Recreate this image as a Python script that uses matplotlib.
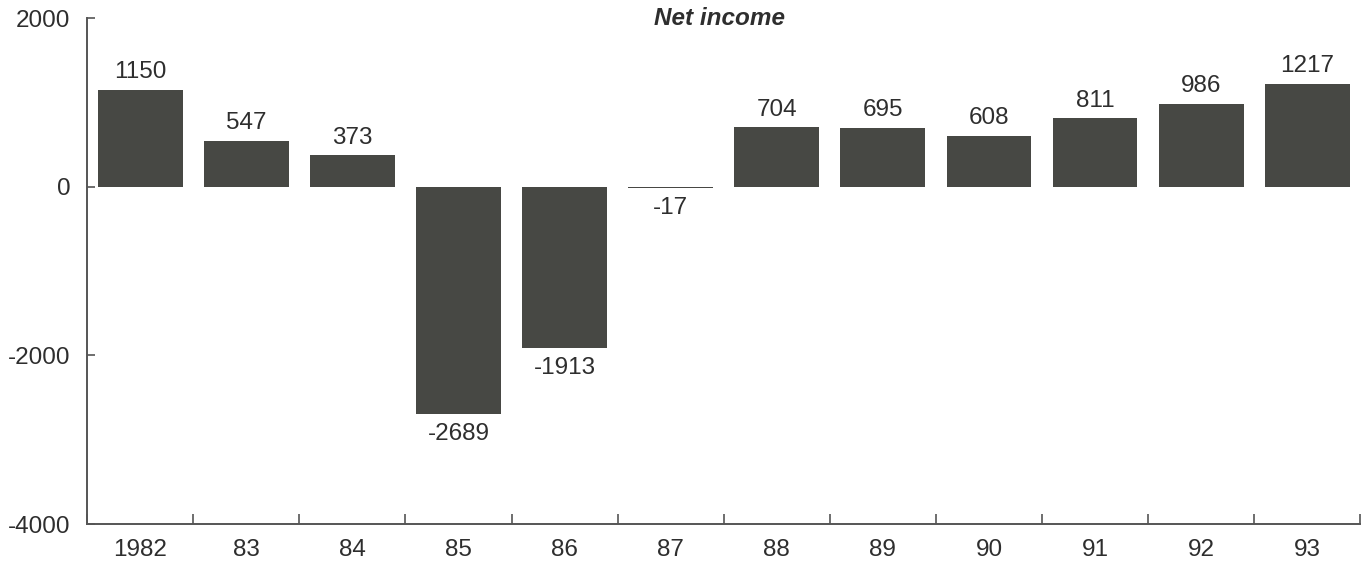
import numpy as np
import matplotlib.pyplot as plt
import matplotlib.transforms as mtransforms

years = ['1982', '83', '84', '85', '86', '87', '88', '89', '90', '91', '92', '93']
net_income = [1150, 547, 373, -2689, -1913, -17, 704, 695, 608, 811, 986, 1217]

plt.rcParams['font.family'] = ['Liberation Sans', 'DejaVu Sans']

bar_color = '#474844'
text_color = '#2e2e2e'
axis_color = '#555555'
fs = 17.5

fig = plt.figure(figsize=(13.63, 5.66), dpi=100)
ax = fig.add_axes([0.064, 0.074, 0.934, 0.894])

x = np.arange(len(years))
ax.bar(x, net_income, width=0.8, color=bar_color, zorder=2)

for xi, v in zip(x, net_income):
    if v >= 0:
        ax.text(xi, v + 80, str(v), ha='center', va='bottom',
                fontsize=fs, color=text_color)
    else:
        ax.text(xi, v - 110, str(v), ha='center', va='top',
                fontsize=fs, color=text_color)

ax.set_xlim(-0.5, len(years) - 0.5)
ax.set_ylim(-4000, 2000)
ax.set_yticks([-4000, -2000, 0, 2000])
ax.set_yticklabels(['-4000', '-2000', '0', '2000'], fontsize=fs, color=text_color)

# category labels in the middle, tick marks on the boundaries
ax.set_xticks(x)
ax.set_xticklabels(years, fontsize=fs, color=text_color)
ax.tick_params(axis='x', which='major', length=0, pad=11)
ax.set_xticks(np.arange(len(years) + 1) - 0.5, minor=True)
ax.tick_params(axis='x', which='minor', direction='in', length=7,
               width=1.2, color=axis_color)
ax.tick_params(axis='y', direction='in', length=6, width=1.2,
               color=axis_color, pad=12)

for side in ['top', 'right']:
    ax.spines[side].set_visible(False)
for side in ['left', 'bottom']:
    ax.spines[side].set_color(axis_color)
    ax.spines[side].set_linewidth(1.4)

trans = mtransforms.blended_transform_factory(ax.transAxes, ax.transData)
ax.text(0.497, 2000, 'Net income', ha='center', va='center', transform=trans,
        fontsize=fs, fontweight='bold', fontstyle='italic', color=text_color)

fig.savefig('out.png', dpi=100, facecolor='white')
